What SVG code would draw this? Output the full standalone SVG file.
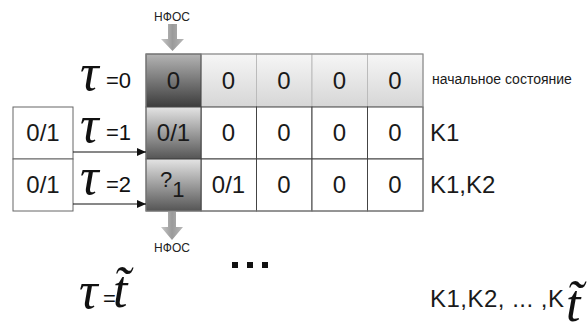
<svg xmlns="http://www.w3.org/2000/svg" width="588" height="325" viewBox="0 0 588 325">
<defs>
<linearGradient id="gTop" x1="0" y1="0" x2="0" y2="1"><stop offset="0" stop-color="#f6f6f6"/><stop offset="1" stop-color="#d6d6d6"/></linearGradient>
<linearGradient id="gDark0" x1="0" y1="0" x2="0" y2="1"><stop offset="0" stop-color="#b4b4b4"/><stop offset="1" stop-color="#3c3c3c"/></linearGradient>
<linearGradient id="gDark" x1="0" y1="0" x2="0" y2="1"><stop offset="0" stop-color="#e4e4e4"/><stop offset="1" stop-color="#555"/></linearGradient>
<linearGradient id="gArrow" x1="0" y1="0" x2="1" y2="0"><stop offset="0" stop-color="#c8c8c8"/><stop offset="0.5" stop-color="#9a9a9a"/><stop offset="1" stop-color="#b8b8b8"/></linearGradient>
<marker id="ah" markerWidth="9" markerHeight="8" refX="9" refY="4" orient="auto" markerUnits="userSpaceOnUse"><path d="M0,0 L9,4 L0,8 Z" fill="#111"/></marker>
</defs>
<style>
.s{font-family:"Liberation Sans",Arial,sans-serif;fill:#1a1a1a}
.c{font-size:24px;text-anchor:middle}
.tau{font-family:"Liberation Serif","Times New Roman",serif;font-style:italic;font-size:52px;fill:#111}
.eq{font-family:"Liberation Sans",Arial,sans-serif;font-size:22px;fill:#111}
.lab{font-family:"Liberation Sans",Arial,sans-serif;font-size:12px;fill:#222;text-anchor:middle}
.cell{stroke:#444;stroke-width:1}
.lcell{stroke:#bbb;stroke-width:1}
.conn{stroke:#111;stroke-width:1;fill:none}
</style>
<rect width="588" height="325" fill="#fff"/>

<g id="arrow-top">
<text class="lab" x="172" y="21">НФОС</text>
<path d="M168,24 H177 V39 H184 L172.5,51 L161,39 H168 Z" fill="url(#gArrow)"/>
</g>

<g id="row0">
<rect class="lcell" x="201" y="54" width="55.5" height="53" fill="url(#gTop)"/>
<rect class="lcell" x="256.5" y="54" width="55.5" height="53" fill="url(#gTop)"/>
<rect class="lcell" x="312" y="54" width="55.5" height="53" fill="url(#gTop)"/>
<rect class="lcell" x="367.5" y="54" width="55.5" height="53" fill="url(#gTop)"/>
<rect class="cell" x="146" y="54" width="55" height="53" fill="url(#gDark0)"/>
<text class="s c" x="173.5" y="89">0</text>
<text class="s c" x="228.5" y="89">0</text>
<text class="s c" x="284" y="89">0</text>
<text class="s c" x="339.5" y="89">0</text>
<text class="s c" x="395" y="89">0</text>
<text class="tau" x="80" y="90">τ</text>
<text class="eq" x="106" y="88">=0</text>
<text class="s" x="432" y="84" font-size="14">начальное состояние</text>
</g>

<g id="row1">
<rect class="cell" x="201" y="107" width="55.5" height="52" fill="#fff"/>
<rect class="cell" x="256.5" y="107" width="55.5" height="52" fill="#fff"/>
<rect class="cell" x="312" y="107" width="55.5" height="52" fill="#fff"/>
<rect class="cell" x="367.5" y="107" width="55.5" height="52" fill="#fff"/>
<rect class="cell" x="146" y="107" width="55" height="52" fill="url(#gDark)"/>
<text class="s c" x="173.5" y="141">0/1</text>
<text class="s c" x="228.5" y="141">0</text>
<text class="s c" x="284" y="141">0</text>
<text class="s c" x="339.5" y="141">0</text>
<text class="s c" x="395" y="141">0</text>
<rect x="13" y="107" width="60" height="52" fill="#fff" stroke="#666"/>
<text class="s c" x="43" y="141">0/1</text>
<text class="tau" x="80" y="142">τ</text>
<text class="eq" x="106" y="140">=1</text>
<text class="s" x="430" y="141" font-size="24">K1</text>
</g>

<g id="row2">
<rect class="cell" x="201" y="159" width="55.5" height="52" fill="#fff"/>
<rect class="cell" x="256.5" y="159" width="55.5" height="52" fill="#fff"/>
<rect class="cell" x="312" y="159" width="55.5" height="52" fill="#fff"/>
<rect class="cell" x="367.5" y="159" width="55.5" height="52" fill="#fff"/>
<rect class="cell" x="146" y="159" width="55" height="52" fill="url(#gDark)"/>
<text class="s" x="160" y="187" font-size="22">?<tspan dy="10" font-size="22">1</tspan></text>
<text class="s c" x="228.5" y="193">0/1</text>
<text class="s c" x="284" y="193">0</text>
<text class="s c" x="339.5" y="193">0</text>
<text class="s c" x="395" y="193">0</text>
<rect x="13" y="159" width="60" height="52" fill="#fff" stroke="#666"/>
<text class="s c" x="43" y="193">0/1</text>
<text class="tau" x="80" y="194">τ</text>
<text class="eq" x="106" y="192">=2</text>
<text class="s" x="430" y="193" font-size="24">K1,K2</text>
</g>
<rect x="146" y="54" width="277" height="157" fill="none" stroke="#888"/>

<g id="connectors">
<line class="conn" x1="73" y1="152" x2="146" y2="152" marker-end="url(#ah)"/>
<line class="conn" x1="73" y1="204" x2="146" y2="204" marker-end="url(#ah)"/>
</g>

<g id="arrow-bottom">
<path d="M168,212 H176 V227 H183 L172,240 L161,227 H168 Z" fill="url(#gArrow)"/>
<text class="lab" x="172" y="252">НФОС</text>
</g>

<g id="dots">
<rect x="232" y="262" width="6" height="6" fill="#111"/>
<rect x="247" y="262" width="6" height="6" fill="#111"/>
<rect x="262" y="262" width="6" height="6" fill="#111"/>
</g>

<g id="last">
<text class="tau" x="79" y="308">τ</text>
<text class="eq" x="103" y="306" font-size="20">=</text>
<text class="tau" x="113" y="307" font-size="27">t&#x303;</text>
<text class="s" x="430" y="307" font-size="24" textLength="134">K1,K2, ... ,K</text>
<text class="tau" x="566" y="321" font-size="28">t&#x303;</text>
</g>
</svg>
